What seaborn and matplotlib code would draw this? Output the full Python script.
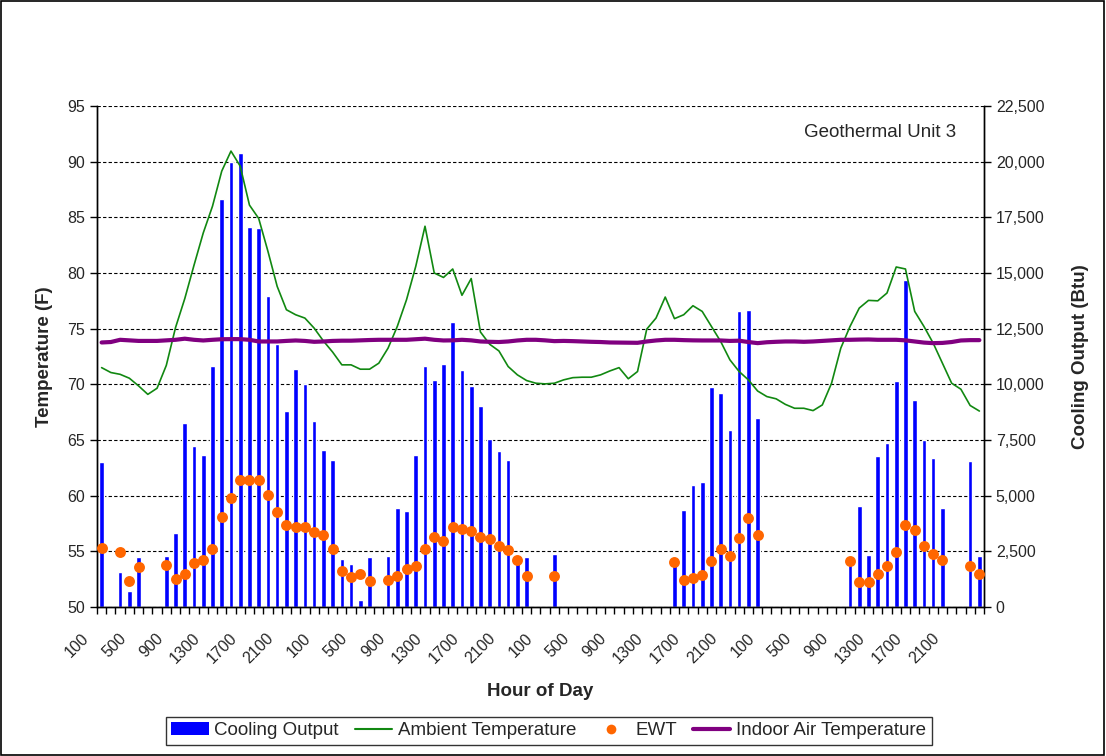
import numpy as np
import matplotlib
matplotlib.use("Agg")
import matplotlib.pyplot as plt
import seaborn as sns
from matplotlib.patches import Patch, Rectangle
from matplotlib.lines import Line2D
from matplotlib.ticker import FuncFormatter
import matplotlib.transforms as mtransforms

# hourly data, 4 days (100 .. 2400 each day)
hour_idx = list(range(96))
hour_labels = [str((i % 24 + 1) * 100) for i in hour_idx]

# cooling output (Btu) - 0 where the unit was off
cooling = [
    6525, 0, 1575, 720, 2250, 0, 0, 2295, 3330, 8280, 7230, 6825,
    10845, 18345, 20000, 20400, 17055, 17000, 13980, 11820, 8805, 10695, 10005, 8355,
    7050, 6600, 2175, 1920, 300, 2250, 0, 2295, 4455, 4305, 6825, 10845,
    10200, 10920, 12780, 10650, 9945, 9045, 7545, 7005, 6600, 2175, 2250, 0,
    0, 2370, 0, 0, 0, 0, 0, 0, 0, 0, 0, 0,
    0, 0, 1950, 4350, 5475, 5595, 9900, 9630, 7950, 13275, 13320, 8505,
    0, 0, 0, 0, 0, 0, 0, 0, 0, 2000, 4530, 2325,
    6780, 7380, 10155, 14700, 9300, 7500, 6705, 4455, 0, 0, 6570, 2295,
]

ambient = [
    71.5, 71.06, 70.9, 70.55, 69.86, 69.1, 69.65, 71.7, 75.1, 77.7, 80.7, 83.6,
    86.0, 89.15, 90.95, 89.6, 86.1, 84.9, 81.95, 78.8, 76.7, 76.25, 75.95, 75.05,
    73.9, 72.9, 71.75, 71.75, 71.36, 71.36, 71.9, 73.25, 75.2, 77.6, 80.6, 84.2,
    80.0, 79.6, 80.36, 78.0, 79.5, 74.7, 73.6, 73.0, 71.6, 70.85, 70.34, 70.1,
    70.04, 70.1, 70.4, 70.6, 70.64, 70.64, 70.85, 71.2, 71.5, 70.5, 71.15, 74.96,
    75.95, 77.84, 75.9, 76.25, 77.06, 76.55, 75.2, 73.85, 72.2, 71.15, 70.4, 69.4,
    68.9, 68.7, 68.2, 67.85, 67.85, 67.64, 68.15, 70.1, 73.25, 75.2, 76.85, 77.54,
    77.5, 78.2, 80.54, 80.36, 76.55, 75.2, 73.7, 71.9, 70.1, 69.56, 68.1, 67.6,
]

nan = np.nan
ewt = [
    55.3, nan, 54.9, 52.3, 53.6, nan, nan, 53.8, 52.55, 53.0, 53.96, 54.2,
    55.25, 58.1, 59.8, 61.4, 61.4, 61.4, 60.05, 58.55, 57.35, 57.2, 57.2, 56.7,
    56.45, 55.2, 53.25, 52.7, 52.94, 52.34, nan, 52.4, 52.8, 53.45, 53.66, 55.25,
    56.27, 55.9, 57.23, 56.99, 56.81, 56.3, 56.15, 55.46, 55.1, 54.26, 52.76, nan,
    nan, 52.76, nan, nan, nan, nan, nan, nan, nan, nan, nan, nan,
    nan, nan, 54.0, 52.46, 52.6, 52.9, 54.14, 55.2, 54.56, 56.2, 57.95, 56.45,
    nan, nan, nan, nan, nan, nan, nan, nan, nan, 54.1, 52.25, 52.25,
    53.0, 53.66, 54.9, 57.4, 56.9, 55.46, 54.74, 54.2, nan, nan, 53.66, 53.0,
]

indoor = [
    73.76, 73.8, 74.0, 73.95, 73.9, 73.9, 73.9, 73.95, 74.0, 74.1, 74.0, 73.94,
    74.0, 74.05, 74.06, 74.06, 74.0, 73.85, 73.85, 73.85, 73.9, 73.94, 73.9, 73.82,
    73.85, 73.9, 73.92, 73.92, 73.95, 73.98, 74.0, 74.0, 74.0, 74.0, 74.05, 74.1,
    74.0, 73.94, 73.95, 74.0, 73.95, 73.85, 73.82, 73.8, 73.85, 73.94, 74.0, 74.0,
    73.95, 73.88, 73.9, 73.88, 73.85, 73.82, 73.8, 73.76, 73.75, 73.74, 73.73, 73.85,
    73.94, 74.0, 74.0, 73.97, 73.95, 73.94, 73.94, 73.94, 73.9, 73.92, 73.8, 73.7,
    73.78, 73.82, 73.85, 73.85, 73.82, 73.85, 73.9, 73.95, 74.0, 74.0, 74.02, 74.03,
    74.0, 74.0, 74.0, 73.95, 73.85, 73.75, 73.7, 73.72, 73.8, 73.94, 73.97, 73.97,
]

sns.set_style("white")
plt.rcParams['font.family'] = ['Liberation Sans', 'DejaVu Sans']

BLUE = "#0000FF"
GREEN = "#118811"
ORANGE = "#FF6600"
PURPLE = "#800080"

fig = plt.figure(figsize=(11.06, 7.56), dpi=100)
ax = fig.add_axes([97 / 1106, 1 - 607 / 756, 887 / 1106, 501 / 756])
ax_t = ax.twinx()

# bars on the Btu axis (right side)
sns.barplot(x=hour_idx, y=cooling, ax=ax, color=BLUE, saturation=1, width=0.5)
ax.set_ylim(0, 22500)
ax.set_yticks(np.arange(0, 22501, 2500))
ax.yaxis.set_major_formatter(FuncFormatter(lambda v, p: f"{v:,.0f}"))
ax.yaxis.tick_right()
ax.yaxis.set_label_position("right")
ax.set_ylabel("Cooling Output (Btu)", fontsize=13.5, fontweight="bold", labelpad=20)
ax.yaxis.grid(True, color="black", linestyle=(0, (3, 2)), linewidth=0.8)
ax.set_axisbelow(True)

# temperatures on the left axis
sns.lineplot(x=hour_idx, y=ambient, ax=ax_t, color=GREEN, linewidth=1.2, legend=False)
sns.lineplot(x=hour_idx, y=indoor, ax=ax_t, color=PURPLE, linewidth=3, legend=False)
sns.scatterplot(x=hour_idx, y=ewt, ax=ax_t, color=ORANGE, s=62, linewidth=0, zorder=4, legend=False)
ax_t.set_ylim(50, 95)
ax_t.set_yticks(np.arange(50, 96, 5))
ax_t.yaxis.tick_left()
ax_t.yaxis.set_label_position("left")
ax_t.set_ylabel("Temperature (F)", fontsize=13.5, fontweight="bold", labelpad=10)

for a in (ax, ax_t):
    a.set_xlim(-0.5, 95.5)
    a.spines["top"].set_visible(False)
    for s in ("left", "right", "bottom"):
        a.spines[s].set_color("black")
        a.spines[s].set_linewidth(1)
    a.tick_params(axis="y", direction="out", length=5, width=1, color="black", labelsize=11.5)

# x axis: labels every 4 hours, tick marks between categories
ax.set_xticks(hour_idx[::4])
ax.set_xticklabels(hour_labels[::4], rotation=45, ha="right", rotation_mode="anchor", fontsize=11.5)
ax.set_xticks(np.arange(-0.5, 96, 1), minor=True)
ax.tick_params(axis="x", which="major", length=0, pad=17)
ax.tick_params(axis="x", which="minor", direction="out", length=5, width=1, color="black", bottom=True)
offset = mtransforms.ScaledTranslation(-14.5 / 72, 0, fig.dpi_scale_trans)
for lab in ax.get_xticklabels():
    lab.set_transform(lab.get_transform() + offset)
ax.set_xlabel("Hour of Day", fontsize=13.5, fontweight="bold", labelpad=12)

ax.text(0.883, 0.948, "Geothermal Unit 3", transform=ax.transAxes, ha="center", va="center", fontsize=13.5)

handles = [
    Patch(facecolor=BLUE, edgecolor="none"),
    Line2D([], [], color=GREEN, linewidth=1.5),
    Line2D([], [], color=ORANGE, marker="o", linestyle="none", markersize=7, markeredgewidth=0),
    Line2D([], [], color=PURPLE, linewidth=3),
]
labels = ["Cooling Output", "Ambient Temperature", "EWT", "Indoor Air Temperature"]
leg = fig.legend(handles, labels, loc="lower center", bbox_to_anchor=(0.496, 0.002), ncol=4,
                 frameon=True, fancybox=False, edgecolor="black", fontsize=13.5,
                 handlelength=2.0, handletextpad=0.3, columnspacing=0.85, borderpad=0.3)
leg.get_frame().set_linewidth(1)

fig.patches.append(Rectangle((0.0005, 0.0007), 0.998, 0.998, transform=fig.transFigure,
                             fill=False, edgecolor="black", linewidth=1.2))

fig.savefig("out.png", dpi=100)
